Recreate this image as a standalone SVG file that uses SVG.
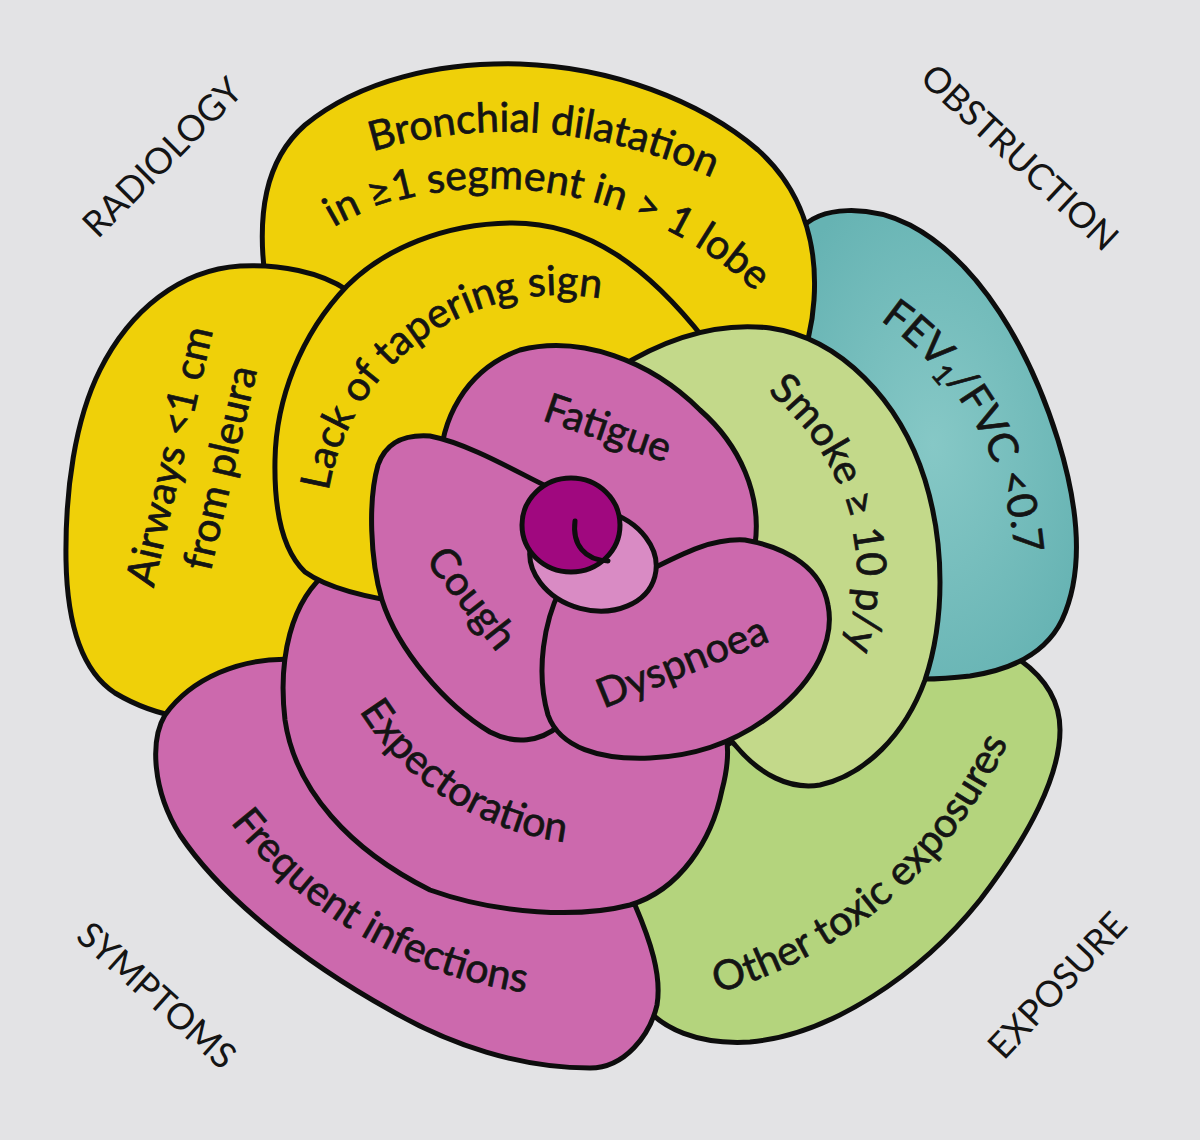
<svg xmlns="http://www.w3.org/2000/svg" width="1200" height="1140" viewBox="0 0 1200 1140">
<style>
.p{stroke:#0d0d0d;stroke-width:5;stroke-linejoin:round}
.y{fill:#efd009}
.pk{fill:#cc69ad}
.t{font-family:Lato,"Open Sans","DejaVu Sans",sans-serif;font-size:41px;fill:#141414;stroke:#141414;stroke-width:0.7}
.c{font-family:Lato,"Open Sans","DejaVu Sans",sans-serif;font-size:36px;fill:#141414}
</style>
<defs>
<radialGradient id="tg" cx="50%" cy="50%" r="60%"><stop offset="0" stop-color="#86c8c6"/><stop offset="1" stop-color="#66b3b3"/></radialGradient>
<path id="a-br1" d="M 358,156 Q 540,96 726,184"/>
<path id="a-br2" d="M 326,232 C 420,170 620,160 762,298"/>
<path id="a-lack" d="M 326,512 A 235 235 0 0 1 621,303"/>
<path id="a-smoke" d="M 762,388 A 236 236 0 0 1 844,655"/>
<path id="a-fev" d="M 858,306 A 316 316 0 0 1 1016,580"/>
<path id="a-exp" d="M 333,657 A 284 284 0 0 0 625,843"/>
<path id="a-freq" d="M 211,796 A 457 457 0 0 0 558,996"/>
<path id="a-oth" d="M 690,1000 A 457 457 0 0 0 1019,716"/>
</defs>
<rect width="1200" height="1140" fill="#e3e3e5"/>

<g id="exposure-other"><path class="p" fill="#b4d47d" d="M 640,1000 C 660,1030 700,1045 750,1042 C 830,1035 920,975 980,900 C 1030,835 1060,775 1060,730 C 1060,700 1045,678 1020,660 L 950,640 L 880,660 L 700,760 L 625,900 Z"/>
<text class="t"><textPath href="#a-oth" startOffset="50%" text-anchor="middle">Other toxic exposures</textPath></text></g>

<g id="obstruction-fev"><path class="p" fill="url(#tg)" d="M 800,230 C 820,205 870,205 910,225 C 980,262 1030,350 1058,440 C 1078,505 1085,570 1062,620 C 1045,655 1010,670 970,676 C 945,679 920,680 900,678 L 820,600 L 790,300 Z"/>
<text class="t"><textPath href="#a-fev" startOffset="50%" text-anchor="middle">FEV<tspan font-size="28" baseline-shift="-8">1</tspan>/FVC &lt;0.7</textPath></text></g>

<g id="radiology-bronchial"><path class="p y" d="M 266,285 C 256,215 265,160 305,125 C 360,80 440,62 520,64 C 610,67 700,100 758,150 C 800,188 818,240 814,300 C 812,330 806,350 798,368 L 700,360 L 520,280 L 340,310 Z"/>
<text class="t"><textPath href="#a-br1" startOffset="50%" text-anchor="middle">Bronchial dilatation</textPath></text>
<text class="t"><textPath href="#a-br2" startOffset="50%" text-anchor="middle">in ≥1 segment in &gt; 1 lobe</textPath></text></g>

<g id="radiology-airways"><path class="p y" d="M 347,290 C 320,272 280,264 240,266 C 180,270 130,310 100,370 C 75,420 65,490 66,560 C 67,620 80,670 115,693 C 140,708 165,715 185,718 L 290,680 L 330,560 Z"/>
<g transform="translate(195,462) rotate(-77)"><text class="t" x="0" y="-12" text-anchor="middle">Airways &lt;1 cm</text><text class="t" x="0" y="40" text-anchor="middle">from pleura</text></g></g>

<g id="symptoms-frequent"><path class="p pk" d="M 300,660 C 240,655 190,680 165,715 C 150,740 152,790 180,835 C 220,895 300,960 390,1010 C 450,1045 520,1068 590,1068 C 625,1068 650,1035 657,1005 C 662,975 650,940 635,905 L 450,850 Z"/>
<text class="t"><textPath href="#a-freq" startOffset="50%" text-anchor="middle">Frequent infections</textPath></text></g>

<g id="symptoms-expectoration"><path class="p pk" d="M 330,570 C 290,600 278,660 285,720 C 295,790 350,850 430,890 C 500,915 580,918 630,905 C 680,890 712,840 722,790 C 730,760 728,745 726,735 L 650,650 L 450,560 Z"/>
<text class="t"><textPath href="#a-exp" startOffset="50%" text-anchor="middle">Expectoration</textPath></text></g>

<g id="radiology-lack"><path class="p y" d="M 347,286 C 385,248 445,224 510,223 C 590,222 650,270 705,340 L 720,420 L 560,560 L 420,605 C 380,600 330,590 305,572 C 282,550 274,510 275,460 C 276,400 300,335 347,286 Z"/>
<text class="t"><textPath href="#a-lack" startOffset="50%" text-anchor="middle">Lack of tapering sign</textPath></text></g>

<g id="exposure-smoke"><path class="p" fill="#c3d98a" d="M 615,370 C 670,335 720,322 770,328 C 840,338 900,400 925,480 C 945,545 945,620 925,680 C 905,735 865,775 820,785 C 790,790 760,775 735,745 L 650,650 L 600,420 Z"/>
<text class="t"><textPath href="#a-smoke" startOffset="50%" text-anchor="middle">Smoke ≥ 10 p/y</textPath></text></g>

<g id="symptoms-fatigue"><path class="p pk" d="M 440,470 C 440,420 465,370 520,350 C 580,335 650,360 700,410 C 740,445 762,495 755,545 L 740,600 L 600,560 L 480,480 Z"/>
<text class="t" transform="translate(608,428) rotate(19)" text-anchor="middle" y="14">Fatigue</text></g>

<g id="symptoms-cough"><path class="p pk" d="M 555,490 C 530,480 475,445 430,436 C 400,434 385,445 378,465 C 368,500 370,560 382,600 C 398,650 445,705 490,732 C 515,745 540,742 560,725 L 580,560 Z"/>
<text class="t" transform="translate(472,598) rotate(52)" text-anchor="middle" y="14">Cough</text></g>

<g id="symptoms-dyspnoea"><path class="p pk" d="M 560,590 C 545,620 535,670 548,715 C 560,748 600,760 650,758 C 700,756 740,740 775,712 C 815,680 835,640 828,605 C 822,570 790,548 745,540 C 710,538 680,555 640,575 Z"/>
<text class="t" transform="translate(682,662) rotate(-22)" text-anchor="middle" y="14">Dyspnoea</text></g>

<g id="bud">
<ellipse class="p" fill="#d98bc4" cx="593" cy="560" rx="64" ry="50" transform="rotate(15 593 560)"/>
<ellipse class="p" fill="#a0087f" cx="571" cy="525" rx="49" ry="47"/>
<path d="M 575,521 C 572,545 585,560 608,561" fill="none" stroke="#0d0d0d" stroke-width="5" stroke-linecap="round"/>
</g>

<g id="category-labels">
<text class="c" transform="translate(162,157) rotate(-45)" text-anchor="middle" y="13">RADIOLOGY</text>
<text class="c" transform="translate(1020,157) rotate(43)" text-anchor="middle" y="13">OBSTRUCTION</text>
<text class="c" transform="translate(157,995) rotate(42)" text-anchor="middle" y="13">SYMPTOMS</text>
<text class="c" transform="translate(1057,985) rotate(-47)" text-anchor="middle" y="13">EXPOSURE</text>
</g>
</svg>
